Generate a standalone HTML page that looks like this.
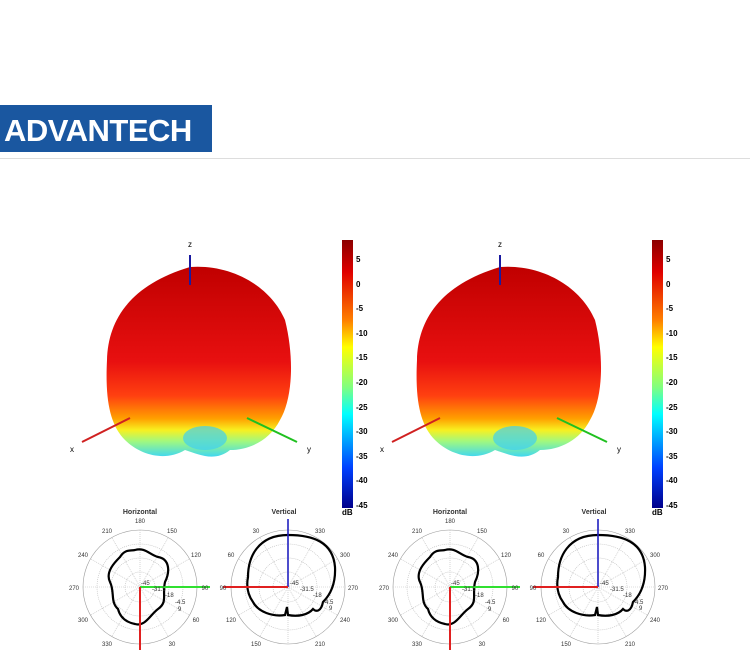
<!DOCTYPE html>
<html><head><style>body{margin:0;background:#fff}svg{display:block}</style></head><body>
<svg width="750" height="650" xmlns="http://www.w3.org/2000/svg" xmlns:xlink="http://www.w3.org/1999/xlink" font-family="Liberation Sans, sans-serif">
<defs>
<linearGradient id="cb" x1="0" y1="0" x2="0" y2="1">
<stop offset="0" stop-color="#8b0000"/><stop offset="0.12" stop-color="#e00000"/><stop offset="0.3" stop-color="#ff8000"/><stop offset="0.4" stop-color="#ffff00"/><stop offset="0.55" stop-color="#80ff80"/><stop offset="0.65" stop-color="#00ffff"/><stop offset="0.85" stop-color="#0040ff"/><stop offset="1" stop-color="#00008b"/></linearGradient>
<linearGradient id="bl" x1="0" y1="0" x2="0" y2="1">
<stop offset="0" stop-color="#c00000"/><stop offset="0.5" stop-color="#e81010"/><stop offset="0.68" stop-color="#ff4010"/><stop offset="0.8" stop-color="#ffa000"/><stop offset="0.86" stop-color="#f8f020"/><stop offset="0.92" stop-color="#a0f880"/><stop offset="1" stop-color="#40d8f0"/></linearGradient>
<g id="panel">
<path d="M190,267 C230,264 270,285 285,320 C295,360 292,400 280,420 C270,440 250,450 230,450 C215,462 200,455 185,450 C165,462 140,455 125,440 C110,425 105,400 107,360 C108,320 130,285 190,267 Z" fill="url(#bl)"/>
<ellipse cx="205" cy="438" rx="22" ry="12" fill="#40d0f0" opacity="0.7"/>
<line x1="190" y1="255" x2="190" y2="285" stroke="#1a1aa0" stroke-width="2"/>
<text x="188" y="247" font-size="8">z</text>
<line x1="82" y1="442" x2="130" y2="418" stroke="#d02020" stroke-width="2"/>
<text x="70" y="452" font-size="8">x</text>
<line x1="247" y1="418" x2="297" y2="442" stroke="#20c020" stroke-width="2"/>
<text x="307" y="452" font-size="8">y</text>
<rect x="342" y="240" width="11" height="268" fill="url(#cb)"/>
<g font-size="8" font-weight="bold">
<text x="356" y="262">5</text><text x="356" y="287">0</text><text x="356" y="311">-5</text><text x="356" y="336">-10</text><text x="356" y="360">-15</text><text x="356" y="385">-20</text><text x="356" y="410">-25</text><text x="356" y="434">-30</text><text x="356" y="459">-35</text><text x="356" y="483">-40</text><text x="356" y="508">-45</text><text x="342" y="515">dB</text></g>
<g transform="translate(140,587)" fill="none" stroke="#bbb" stroke-width="0.6">
<circle r="57" stroke="#999"/><circle r="43" stroke-dasharray="1,1"/><circle r="29" stroke-dasharray="1,1"/><circle r="15" stroke-dasharray="1,1"/>
<path d="M-57,0H57M0,-57V57M-49,-28L49,28M-49,28L49,-28M-28,-49L28,49M-28,49L28,-49" stroke-dasharray="1,1"/>
<path d="M-5,-37 C5,-40 10,-32 18,-30 C30,-28 30,-15 25,-5 C22,8 28,15 18,22 C10,28 5,40 -5,37 C-15,35 -20,30 -22,22 C-30,15 -25,5 -30,-5 C-35,-15 -25,-25 -20,-30 C-15,-38 -10,-36 -5,-37 Z" stroke="#000" stroke-width="2.2"/>
<line x1="0" y1="0" x2="70" y2="0" stroke="#30e030" stroke-width="2"/>
<line x1="0" y1="0" x2="0" y2="63" stroke="#e02020" stroke-width="2"/>
</g>
<g font-size="6" fill="#333">
<text x="140" y="514" text-anchor="middle" font-weight="bold" font-size="7">Horizontal</text>
<text x="140" y="523" text-anchor="middle">180</text><text x="107" y="533" text-anchor="middle">210</text><text x="172" y="533" text-anchor="middle">150</text>
<text x="83" y="557" text-anchor="middle">240</text><text x="196" y="557" text-anchor="middle">120</text>
<text x="74" y="590" text-anchor="middle">270</text><text x="205" y="590" text-anchor="middle">90</text>
<text x="83" y="622" text-anchor="middle">300</text><text x="196" y="622" text-anchor="middle">60</text>
<text x="107" y="646" text-anchor="middle">330</text><text x="172" y="646" text-anchor="middle">30</text>
<text x="141" y="585">-45</text><text x="152" y="591">-31.5</text><text x="165" y="597">-18</text><text x="175" y="604">-4.5</text><text x="178" y="611">9</text></g>
<g transform="translate(288,587)" fill="none" stroke="#bbb" stroke-width="0.6">
<circle r="57" stroke="#999"/><circle r="43" stroke-dasharray="1,1"/><circle r="29" stroke-dasharray="1,1"/><circle r="15" stroke-dasharray="1,1"/>
<path d="M-57,0H57M0,-57V57M-49,-28L49,28M-49,28L49,-28M-28,-49L28,49M-28,49L28,-49" stroke-dasharray="1,1"/>
<path d="M0,-52 C25,-52 45,-45 47,-20 C48,0 40,10 35,15 C33,25 28,25 25,22 C20,28 10,30 0,28 L-1,20 L-3,28 C-15,30 -30,25 -35,15 C-40,8 -42,0 -40,-10 C-40,-30 -30,-52 0,-52 Z" stroke="#000" stroke-width="2.2"/>
<line x1="0" y1="0" x2="0" y2="-68" stroke="#2020c0" stroke-width="1.6"/>
<line x1="0" y1="0" x2="-65" y2="0" stroke="#e02020" stroke-width="2"/>
</g>
<g font-size="6" fill="#333">
<text x="284" y="514" text-anchor="middle" font-weight="bold" font-size="7">Vertical</text>
<text x="256" y="533" text-anchor="middle">30</text><text x="320" y="533" text-anchor="middle">330</text>
<text x="231" y="557" text-anchor="middle">60</text><text x="345" y="557" text-anchor="middle">300</text>
<text x="223" y="590" text-anchor="middle">90</text><text x="353" y="590" text-anchor="middle">270</text>
<text x="231" y="622" text-anchor="middle">120</text><text x="345" y="622" text-anchor="middle">240</text>
<text x="256" y="646" text-anchor="middle">150</text><text x="320" y="646" text-anchor="middle">210</text>
<text x="290" y="585">-45</text><text x="300" y="591">-31.5</text><text x="313" y="597">-18</text><text x="323" y="604">-4.5</text><text x="329" y="610">9</text></g>
</g>
</defs>
<rect x="0" y="105" width="212" height="47" fill="#1a57a0"/>
<text x="4" y="141" font-size="31" font-weight="bold" fill="#fff" letter-spacing="-0.5">ADVANTECH</text>
<line x1="0" y1="158.5" x2="750" y2="158.5" stroke="#ddd" stroke-width="1"/>
<use xlink:href="#panel"/>
<use xlink:href="#panel" transform="translate(310,0)"/>
</svg>
</body></html>
